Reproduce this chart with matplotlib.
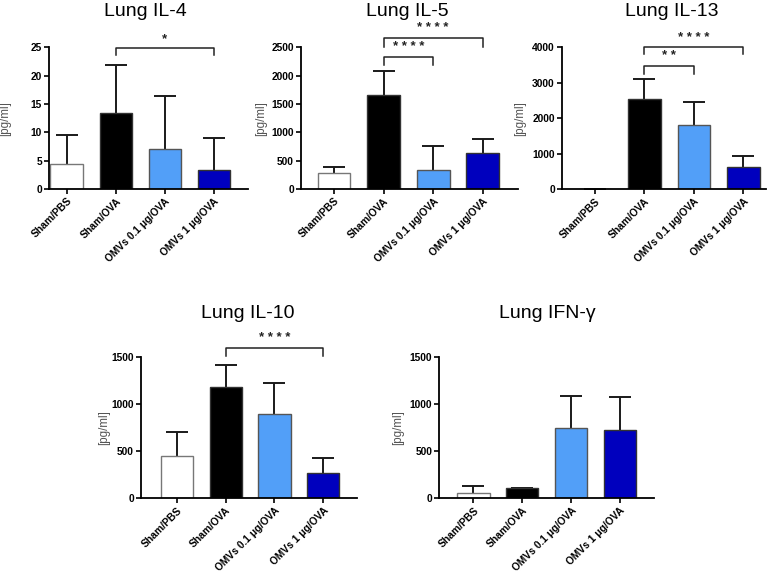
import numpy as np
import matplotlib.pyplot as plt

plt.rcParams['font.family'] = ['Liberation Sans', 'DejaVu Sans']

# groups shared by all panels
groups = ['Sham/PBS', 'Sham/OVA', 'OMVs 0.1 μg/OVA', 'OMVs 1 μg/OVA']
bar_colors = ['white', 'black', '#529FF8', '#0000BE']
edge_colors = ['#777777', '#333333', '#555555', '#333333']

# mean values and upper error (SD)
il4_mean = [4.4, 13.4, 7.0, 3.3]
il4_err = [5.2, 8.5, 9.4, 5.7]
il5_mean = [280, 1650, 330, 635]
il5_err = [100, 430, 420, 255]
il13_mean = [0, 2550, 1800, 630]
il13_err = [0, 560, 650, 310]
il10_mean = [448, 1175, 895, 265]
il10_err = [257, 240, 327, 163]
ifn_mean = [53, 106, 748, 720]
ifn_err = [78, 0, 337, 350]

# (title, means, errors, ymax, yticks, brackets [(i, j, y, tick_drop, label, label_y)])
panels = [
    ('Lung IL-4', il4_mean, il4_err, 25, [0, 5, 10, 15, 20, 25],
     [(1, 3, 24.8, 1.1, '*', 25.4)]),
    ('Lung IL-5', il5_mean, il5_err, 2500, [0, 500, 1000, 1500, 2000, 2500],
     [(1, 2, 2336, 150, '* * * *', 2400), (1, 3, 2670, 160, '* * * *', 2740)]),
    ('Lung IL-13', il13_mean, il13_err, 4000, [0, 1000, 2000, 3000, 4000],
     [(1, 2, 3483, 235, '* *', 3580), (1, 3, 4000, 200, '* * * *', 4100)]),
    ('Lung IL-10', il10_mean, il10_err, 1500, [0, 500, 1000, 1500],
     [(1, 3, 1595, 90, '* * * *', 1630)]),
    ('Lung IFN-γ', ifn_mean, ifn_err, 1500, [0, 500, 1000, 1500], []),
]

# axes boxes in pixels: left, right, top, bottom ; x limits ; title position ; ylabel right edge
W, H = 777, 575
boxes = [
    (49, 248.3, 47.3, 189, (-0.36, 3.70), (145, 12), 11),
    (300.7, 518, 47.3, 189, (-0.67, 3.71), (407, 12), 267),
    (561.7, 765.7, 47.3, 189.3, (-0.67, 3.45), (672, 12), 526),
    (140.7, 357, 356.7, 498.3, (-0.74, 3.69), (248, 314), 110),
    (439.3, 654, 356.7, 498.3, (-0.70, 3.70), (547, 314), 404),
]

fig = plt.figure(figsize=(7.77, 5.75), dpi=100)

for (title, means, errs, ymax, yticks, brackets), (l, r, t, b, xl, tpos, ylx) in zip(panels, boxes):
    ax = fig.add_axes([l / W, 1 - b / H, (r - l) / W, (b - t) / H])
    x = np.arange(len(groups))
    ax.bar(x, means, width=0.66, color=bar_colors, edgecolor=edge_colors, linewidth=1.0, zorder=2)
    eb = ax.errorbar(x, means, yerr=[np.zeros(len(errs)), errs], fmt='none', ecolor='#1a1a1a',
                     elinewidth=1.4, capsize=8, capthick=1.4, zorder=1)
    eb[1][0].set_visible(False)
    ax.set_xlim(*xl)
    ax.set_ylim(0, ymax)
    ax.set_yticks(yticks)
    ax.set_xticks(x)
    ax.set_xticklabels(groups, rotation=45, ha='right', rotation_mode='anchor',
                       fontsize=7.4, fontweight='bold')
    for lab in ax.get_yticklabels():
        lab.set_fontweight('bold')
        lab.set_fontsize(7.4)
    ax.tick_params(axis='both', direction='out', width=1.2, length=3.5, pad=1.5)
    ax.spines['top'].set_visible(False)
    ax.spines['right'].set_visible(False)
    ax.spines['left'].set_linewidth(1.3)
    ax.spines['bottom'].set_linewidth(1.3)
    ax.set_ylabel('[pg/ml]', fontsize=8.3, color='#555555')
    ax.yaxis.set_label_coords((ylx - l) / (r - l), 0.5)
    for i, j, y, drop, label, ly in brackets:
        ax.plot([i, i, j, j], [y - drop, y, y, y - drop], color='#222222', lw=1.1,
                clip_on=False)
        ax.text((i + j) / 2, ly, label, ha='center', va='bottom', fontsize=9.5,
                fontweight='bold', color='#222222', clip_on=False)
    fig.text(tpos[0] / W, 1 - tpos[1] / H, title, ha='center', va='center', fontsize=14)

fig.savefig('out.png', dpi=100)
